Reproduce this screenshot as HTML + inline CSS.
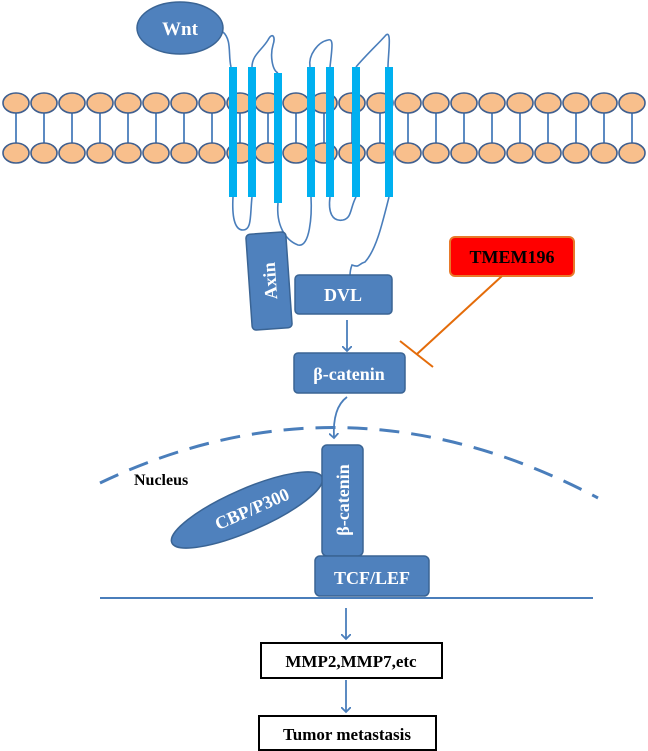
<!DOCTYPE html>
<html><head><meta charset="utf-8"><style>
html,body{margin:0;padding:0;background:#fff;}
svg{display:block;}
text{font-family:"Liberation Serif",serif;font-weight:bold;}
</style></head><body>
<svg width="648" height="751" viewBox="0 0 648 751" xmlns="http://www.w3.org/2000/svg">
<defs>
<marker id="ah" markerWidth="10" markerHeight="10" refX="5" refY="5" orient="auto" markerUnits="userSpaceOnUse">
<path d="M0,0 L5,5 L0,10" fill="none" stroke="#4a7ebb" stroke-width="1.8"/>
</marker>
</defs>
<g stroke="#4a7ebb" stroke-width="1.8">
<line x1="16" y1="113" x2="16" y2="143"/><line x1="44" y1="113" x2="44" y2="143"/><line x1="72" y1="113" x2="72" y2="143"/><line x1="100" y1="113" x2="100" y2="143"/><line x1="128" y1="113" x2="128" y2="143"/><line x1="156" y1="113" x2="156" y2="143"/><line x1="184" y1="113" x2="184" y2="143"/><line x1="212" y1="113" x2="212" y2="143"/><line x1="240" y1="113" x2="240" y2="143"/><line x1="268" y1="113" x2="268" y2="143"/><line x1="296" y1="113" x2="296" y2="143"/><line x1="324" y1="113" x2="324" y2="143"/><line x1="352" y1="113" x2="352" y2="143"/><line x1="380" y1="113" x2="380" y2="143"/><line x1="408" y1="113" x2="408" y2="143"/><line x1="436" y1="113" x2="436" y2="143"/><line x1="464" y1="113" x2="464" y2="143"/><line x1="492" y1="113" x2="492" y2="143"/><line x1="520" y1="113" x2="520" y2="143"/><line x1="548" y1="113" x2="548" y2="143"/><line x1="576" y1="113" x2="576" y2="143"/><line x1="604" y1="113" x2="604" y2="143"/><line x1="632" y1="113" x2="632" y2="143"/>
</g>
<g fill="#f8bf8c" stroke="#3f5f8f" stroke-width="1.6" id="row">
<ellipse cx="16" cy="103" rx="13" ry="10"/><ellipse cx="44" cy="103" rx="13" ry="10"/><ellipse cx="72" cy="103" rx="13" ry="10"/><ellipse cx="100" cy="103" rx="13" ry="10"/><ellipse cx="128" cy="103" rx="13" ry="10"/><ellipse cx="156" cy="103" rx="13" ry="10"/><ellipse cx="184" cy="103" rx="13" ry="10"/><ellipse cx="212" cy="103" rx="13" ry="10"/><ellipse cx="240" cy="103" rx="13" ry="10"/><ellipse cx="268" cy="103" rx="13" ry="10"/><ellipse cx="296" cy="103" rx="13" ry="10"/><ellipse cx="324" cy="103" rx="13" ry="10"/><ellipse cx="352" cy="103" rx="13" ry="10"/><ellipse cx="380" cy="103" rx="13" ry="10"/><ellipse cx="408" cy="103" rx="13" ry="10"/><ellipse cx="436" cy="103" rx="13" ry="10"/><ellipse cx="464" cy="103" rx="13" ry="10"/><ellipse cx="492" cy="103" rx="13" ry="10"/><ellipse cx="520" cy="103" rx="13" ry="10"/><ellipse cx="548" cy="103" rx="13" ry="10"/><ellipse cx="576" cy="103" rx="13" ry="10"/><ellipse cx="604" cy="103" rx="13" ry="10"/><ellipse cx="632" cy="103" rx="13" ry="10"/>
</g>
<use href="#row" y="50"/>
<g fill="none" stroke="#4a7ebb" stroke-width="1.6">
<path d="M223,32 C232,40 228,55 231,67"/>
<path d="M252,67 C252,55 262,50 268,40 C272,32 276,36 273,45 C270,55 272,70 278,73"/>
<path d="M310,67 C308,55 318,42 328,40 C334,38 332,48 330,67"/>
<path d="M356,67 C366,55 380,42 386,35 C392,30 388,55 388,67"/>
<path d="M233,197 C232,215 234,230 243,230 C252,230 250,215 252,197"/>
<path d="M278,203 C276,225 285,240 298,245 C310,248 312,215 311,197"/>
<path d="M330,197 C328,212 332,222 343,220 C352,218 350,208 356,197"/>
<path d="M389,197 C382,225 376,250 365,262 C358,264 360,268 352,265 C350,270 350,273 350,276"/>
</g>
<g fill="#00b0f0">
<rect x="229" y="67" width="8" height="130"/><rect x="248" y="67" width="8" height="130"/><rect x="274" y="73" width="8" height="130"/><rect x="307" y="67" width="8" height="130"/><rect x="326" y="67" width="8" height="130"/><rect x="352" y="67" width="8" height="130"/><rect x="385" y="67" width="8" height="130"/>
</g>
<ellipse cx="180" cy="28" rx="43" ry="26" fill="#4f81bd" stroke="#3a6494" stroke-width="1.5"/>
<text x="180" y="35" fill="#fff" font-size="19" text-anchor="middle">Wnt</text>
<g transform="translate(269,281) rotate(-4)">
<rect x="-20" y="-48" width="40" height="96" rx="4" fill="#4f81bd" stroke="#3a6494" stroke-width="1.5"/>
<text transform="rotate(-90)" x="0" y="7" fill="#fff" font-size="18" text-anchor="middle">Axin</text>
</g>
<rect x="295" y="275" width="97" height="39" rx="4" fill="#4f81bd" stroke="#3a6494" stroke-width="1.5"/>
<text x="343" y="301" fill="#fff" font-size="18" text-anchor="middle">DVL</text>
<line x1="347" y1="320" x2="347" y2="351" stroke="#4a7ebb" stroke-width="1.8" marker-end="url(#ah)"/>
<rect x="294" y="353" width="111" height="40" rx="4" fill="#4f81bd" stroke="#3a6494" stroke-width="1.5"/>
<text x="349" y="380" fill="#fff" font-size="18" text-anchor="middle">β-catenin</text>
<rect x="450" y="237" width="124" height="39" rx="5" fill="#ff0000" stroke="#e8792a" stroke-width="2"/>
<text x="512" y="263" fill="#000" font-size="18" text-anchor="middle">TMEM196</text>
<line x1="502" y1="276" x2="417" y2="354" stroke="#e46c0a" stroke-width="2"/>
<line x1="400" y1="341" x2="433" y2="367" stroke="#e46c0a" stroke-width="2"/>
<path d="M347,397 C336,405 333,420 334,438" fill="none" stroke="#4a7ebb" stroke-width="1.8" marker-end="url(#ah)"/>
<path d="M100,483 Q347,365 598,498" fill="none" stroke="#4a7ebb" stroke-width="3" stroke-dasharray="20,12"/>
<text x="134" y="485" fill="#000" font-size="16">Nucleus</text>
<g transform="translate(247,510) rotate(-23.6)">
<ellipse cx="0" cy="0" rx="82" ry="21" fill="#4f81bd" stroke="#3a6494" stroke-width="1.5"/>
<text x="5" y="7" fill="#fff" font-size="18" text-anchor="middle">CBP/P300</text>
</g>
<rect x="322" y="445" width="41" height="111" rx="5" fill="#4f81bd" stroke="#3a6494" stroke-width="1.5"/>
<text transform="translate(349,500) rotate(-90)" x="0" y="0" fill="#fff" font-size="18" text-anchor="middle">β-catenin</text>
<rect x="315" y="556" width="114" height="40" rx="5" fill="#4f81bd" stroke="#3a6494" stroke-width="1.5"/>
<text x="372" y="584" fill="#fff" font-size="18" text-anchor="middle">TCF/LEF</text>
<line x1="100" y1="598" x2="593" y2="598" stroke="#4a7ebb" stroke-width="2"/>
<line x1="346" y1="608" x2="346" y2="639" stroke="#4a7ebb" stroke-width="1.8" marker-end="url(#ah)"/>
<rect x="261" y="643" width="181" height="35" fill="#fff" stroke="#000" stroke-width="2"/>
<text x="351" y="667" fill="#000" font-size="17" text-anchor="middle">MMP2,MMP7,etc</text>
<line x1="346" y1="680" x2="346" y2="712" stroke="#4a7ebb" stroke-width="1.8" marker-end="url(#ah)"/>
<rect x="259" y="716" width="177" height="34" fill="#fff" stroke="#000" stroke-width="2"/>
<text x="347" y="740" fill="#000" font-size="17" text-anchor="middle">Tumor metastasis</text>
</svg>
</body></html>
